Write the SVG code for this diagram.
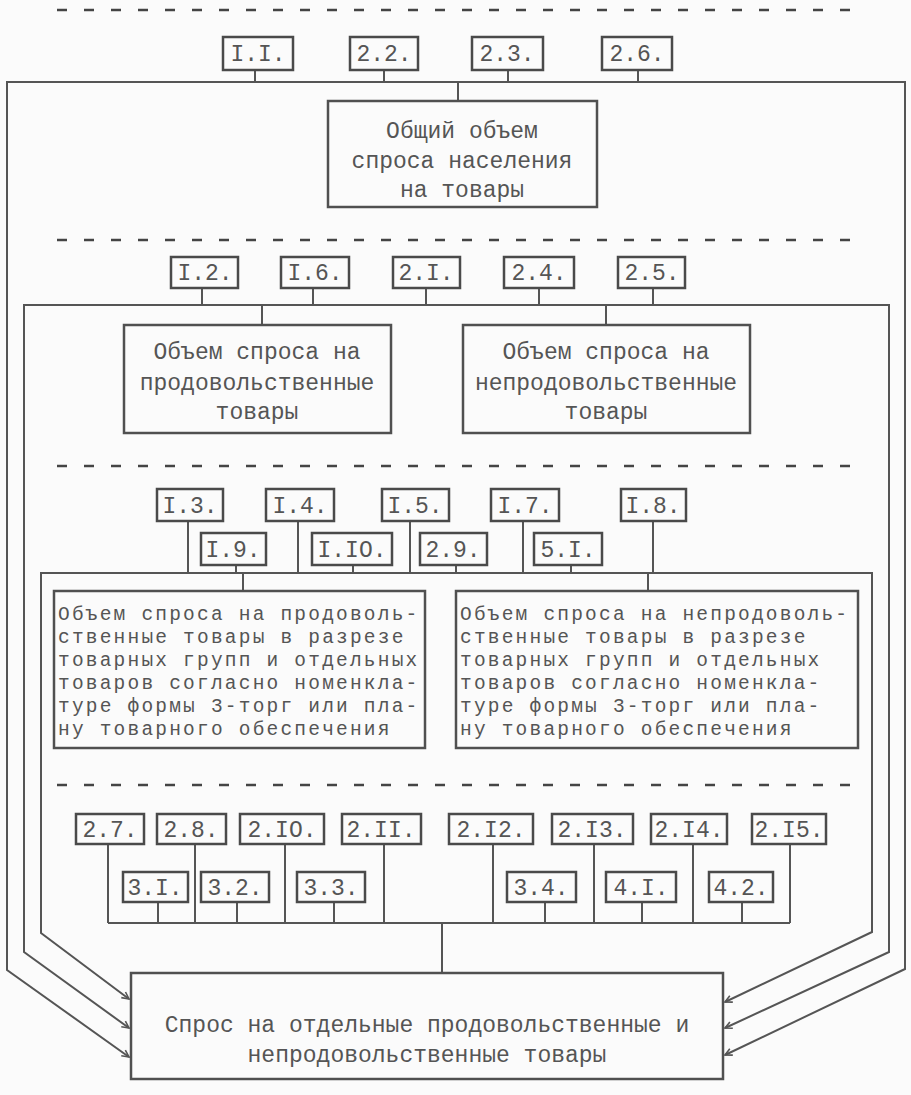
<svg xmlns="http://www.w3.org/2000/svg" width="911" height="1095" viewBox="0 0 911 1095">
<defs>
<style>
.bg{fill:#fbfbfb}
.box{fill:none;stroke:#505050;stroke-width:2.5}
.lbl{fill:none;stroke:#4a4a4a;stroke-width:2.5}
.ln{fill:none;stroke:#555;stroke-width:2}
.dash{fill:none;stroke:#444;stroke-width:2.5;stroke-dasharray:10 17}
text{font-family:"Liberation Mono","DejaVu Sans Mono",monospace;font-size:23px;fill:#555}
.c{text-anchor:middle}
.p{font-size:19.5px;letter-spacing:2.2px}
</style>
<marker id="ah" markerUnits="userSpaceOnUse" markerWidth="10" markerHeight="10" refX="8" refY="5" orient="auto">
<path d="M1,1.5 L8,5 L1,8.5" fill="none" stroke="#555" stroke-width="1.6"/>
</marker>
</defs>
<rect class="bg" x="0" y="0" width="911" height="1095"/>

<g id="dividers">
<line class="dash" x1="57" y1="10" x2="852" y2="10"/>
<line class="dash" x1="57" y1="240" x2="852" y2="240"/>
<line class="dash" x1="57" y1="466" x2="852" y2="466"/>
<line class="dash" x1="57" y1="785" x2="852" y2="785"/>
</g>

<g id="connectors">
<path class="ln" d="M458,82 L7,82 L7,970 L129,1057" marker-end="url(#ah)"/>
<path class="ln" d="M458,82 L905,82 L905,969 L725,1055" marker-end="url(#ah)"/>
<line class="ln" x1="255" y1="70" x2="255" y2="82"/>
<line class="ln" x1="384" y1="70" x2="384" y2="82"/>
<line class="ln" x1="508" y1="70" x2="508" y2="82"/>
<line class="ln" x1="638" y1="70" x2="638" y2="82"/>
<line class="ln" x1="458" y1="82" x2="458" y2="101" stroke-width="3"/>
<path class="ln" d="M262,305 L24,305 L24,952 L129,1028" marker-end="url(#ah)"/>
<path class="ln" d="M262,305 L889,305 L889,952 L725,1028" marker-end="url(#ah)"/>
<line class="ln" x1="202" y1="288" x2="202" y2="305"/>
<line class="ln" x1="313" y1="288" x2="313" y2="305"/>
<line class="ln" x1="426" y1="288" x2="426" y2="305"/>
<line class="ln" x1="539" y1="288" x2="539" y2="305"/>
<line class="ln" x1="653" y1="288" x2="653" y2="305"/>
<line class="ln" x1="262" y1="305" x2="262" y2="325" stroke-width="3"/>
<line class="ln" x1="606" y1="305" x2="606" y2="325" stroke-width="3"/>
<path class="ln" d="M243,573 L41,573 L41,933 L129,999" marker-end="url(#ah)"/>
<path class="ln" d="M243,573 L872,573 L872,932 L725,1002" marker-end="url(#ah)"/>
<line class="ln" x1="188" y1="521" x2="188" y2="573"/>
<line class="ln" x1="298" y1="521" x2="298" y2="573"/>
<line class="ln" x1="410" y1="521" x2="410" y2="573"/>
<line class="ln" x1="523" y1="521" x2="523" y2="573"/>
<line class="ln" x1="653" y1="521" x2="653" y2="573"/>
<line class="ln" x1="236" y1="565" x2="236" y2="573"/>
<line class="ln" x1="353" y1="565" x2="353" y2="573"/>
<line class="ln" x1="456" y1="565" x2="456" y2="573"/>
<line class="ln" x1="571" y1="565" x2="571" y2="573"/>
<line class="ln" x1="243" y1="573" x2="243" y2="591" stroke-width="3"/>
<line class="ln" x1="648" y1="573" x2="648" y2="591" stroke-width="3"/>
<line class="ln" x1="108" y1="923" x2="790" y2="923"/>
<line class="ln" x1="108" y1="844" x2="108" y2="923"/>
<line class="ln" x1="195" y1="844" x2="195" y2="923"/>
<line class="ln" x1="285" y1="844" x2="285" y2="923"/>
<line class="ln" x1="384" y1="844" x2="384" y2="923"/>
<line class="ln" x1="493" y1="844" x2="493" y2="923"/>
<line class="ln" x1="594" y1="844" x2="594" y2="923"/>
<line class="ln" x1="693" y1="844" x2="693" y2="923"/>
<line class="ln" x1="790" y1="844" x2="790" y2="923"/>
<line class="ln" x1="158" y1="902" x2="158" y2="923"/>
<line class="ln" x1="237" y1="902" x2="237" y2="923"/>
<line class="ln" x1="334" y1="902" x2="334" y2="923"/>
<line class="ln" x1="545" y1="902" x2="545" y2="923"/>
<line class="ln" x1="642" y1="902" x2="642" y2="923"/>
<line class="ln" x1="742" y1="902" x2="742" y2="923"/>
<line class="ln" x1="442" y1="923" x2="442" y2="973"/>
</g>

<g id="n-1-1"><rect class="lbl" x="223" y="37" width="70" height="33"/><text class="c" x="258" y="61">I.I.</text></g>
<g id="n-2-2"><rect class="lbl" x="350" y="37" width="68" height="33"/><text class="c" x="384" y="61">2.2.</text></g>
<g id="n-2-3"><rect class="lbl" x="472" y="37" width="71" height="33"/><text class="c" x="507" y="61">2.3.</text></g>
<g id="n-2-6"><rect class="lbl" x="602" y="37" width="70" height="33"/><text class="c" x="637" y="61">2.6.</text></g>

<g id="total">
<rect class="box" x="328" y="101" width="269" height="106"/>
<text class="c" x="462" y="138">Общий объем</text>
<text class="c" x="462" y="168">спроса населения</text>
<text class="c" x="462" y="197">на товары</text>
</g>

<g id="n-1-2"><rect class="lbl" x="171" y="257" width="67" height="31"/><text class="c" x="205" y="280">I.2.</text></g>
<g id="n-1-6"><rect class="lbl" x="281" y="257" width="68" height="31"/><text class="c" x="315" y="280">I.6.</text></g>
<g id="n-2-1"><rect class="lbl" x="393" y="257" width="67" height="31"/><text class="c" x="426" y="280">2.I.</text></g>
<g id="n-2-4"><rect class="lbl" x="504" y="257" width="70" height="31"/><text class="c" x="539" y="280">2.4.</text></g>
<g id="n-2-5"><rect class="lbl" x="618" y="257" width="67" height="31"/><text class="c" x="652" y="280">2.5.</text></g>

<g id="food">
<rect class="box" x="124" y="325" width="267" height="108"/>
<text class="c" x="257" y="359">Объем спроса на</text>
<text class="c" x="257" y="390">продовольственные</text>
<text class="c" x="257" y="419">товары</text>
</g>
<g id="nonfood">
<rect class="box" x="463" y="325" width="287" height="108"/>
<text class="c" x="606" y="359">Объем спроса на</text>
<text class="c" x="606" y="390">непродовольственные</text>
<text class="c" x="606" y="419">товары</text>
</g>

<g id="n-1-3"><rect class="lbl" x="157" y="489" width="66" height="32"/><text class="c" x="190" y="513">I.3.</text></g>
<g id="n-1-4"><rect class="lbl" x="266" y="489" width="68" height="32"/><text class="c" x="300" y="513">I.4.</text></g>
<g id="n-1-5"><rect class="lbl" x="382" y="489" width="67" height="32"/><text class="c" x="415" y="513">I.5.</text></g>
<g id="n-1-7"><rect class="lbl" x="491" y="489" width="68" height="32"/><text class="c" x="525" y="513">I.7.</text></g>
<g id="n-1-8"><rect class="lbl" x="621" y="489" width="65" height="32"/><text class="c" x="653" y="513">I.8.</text></g>
<g id="n-1-9"><rect class="lbl" x="201" y="533" width="65" height="32"/><text class="c" x="233" y="557">I.9.</text></g>
<g id="n-1-10"><rect class="lbl" x="312" y="533" width="80" height="32"/><text class="c" x="352" y="557">I.IO.</text></g>
<g id="n-2-9"><rect class="lbl" x="420" y="533" width="67" height="32"/><text class="c" x="453" y="557">2.9.</text></g>
<g id="n-5-1"><rect class="lbl" x="534" y="533" width="68" height="32"/><text class="c" x="568" y="557">5.I.</text></g>

<g id="food-groups">
<rect class="box" x="54" y="591" width="371" height="157"/>
<text class="p" x="58" y="620">Объем спроса на продоволь-</text>
<text class="p" x="58" y="643">ственные товары в разрезе</text>
<text class="p" x="58" y="666">товарных групп и отдельных</text>
<text class="p" x="58" y="689">товаров согласно номенкла-</text>
<text class="p" x="58" y="712">туре формы 3-торг или пла-</text>
<text class="p" x="58" y="735">ну товарного обеспечения</text>
</g>
<g id="nonfood-groups">
<rect class="box" x="456" y="591" width="402" height="157"/>
<text class="p" x="460" y="620">Объем спроса на непродоволь-</text>
<text class="p" x="460" y="643">ственные товары в разрезе</text>
<text class="p" x="460" y="666">товарных групп и отдельных</text>
<text class="p" x="460" y="689">товаров согласно номенкла-</text>
<text class="p" x="460" y="712">туре формы 3-торг или пла-</text>
<text class="p" x="460" y="735">ну товарного обеспечения</text>
</g>

<g id="n-2-7"><rect class="lbl" x="76" y="814" width="68" height="30"/><text class="c" x="110" y="837">2.7.</text></g>
<g id="n-2-8"><rect class="lbl" x="157" y="814" width="69" height="30"/><text class="c" x="191" y="837">2.8.</text></g>
<g id="n-2-10"><rect class="lbl" x="240" y="814" width="84" height="30"/><text class="c" x="282" y="837">2.IO.</text></g>
<g id="n-2-11"><rect class="lbl" x="342" y="814" width="79" height="30"/><text class="c" x="381" y="837">2.II.</text></g>
<g id="n-2-12"><rect class="lbl" x="449" y="814" width="84" height="30"/><text class="c" x="491" y="837">2.I2.</text></g>
<g id="n-2-13"><rect class="lbl" x="552" y="814" width="81" height="30"/><text class="c" x="592" y="837">2.I3.</text></g>
<g id="n-2-14"><rect class="lbl" x="651" y="814" width="76" height="30"/><text class="c" x="689" y="837">2.I4.</text></g>
<g id="n-2-15"><rect class="lbl" x="752" y="814" width="74" height="30"/><text class="c" x="789" y="837">2.I5.</text></g>

<g id="n-3-1"><rect class="lbl" x="123" y="872" width="65" height="30"/><text class="c" x="155" y="895">3.I.</text></g>
<g id="n-3-2"><rect class="lbl" x="201" y="872" width="68" height="30"/><text class="c" x="235" y="895">3.2.</text></g>
<g id="n-3-3"><rect class="lbl" x="297" y="872" width="68" height="30"/><text class="c" x="331" y="895">3.3.</text></g>
<g id="n-3-4"><rect class="lbl" x="507" y="872" width="69" height="30"/><text class="c" x="541" y="895">3.4.</text></g>
<g id="n-4-1"><rect class="lbl" x="606" y="872" width="70" height="30"/><text class="c" x="641" y="895">4.I.</text></g>
<g id="n-4-2"><rect class="lbl" x="709" y="872" width="64" height="30"/><text class="c" x="741" y="895">4.2.</text></g>

<g id="result">
<rect class="box" x="131" y="973" width="592" height="106"/>
<text class="c" x="427" y="1032">Спрос на отдельные продовольственные и</text>
<text class="c" x="427" y="1062">непродовольственные товары</text>
</g>
</svg>
